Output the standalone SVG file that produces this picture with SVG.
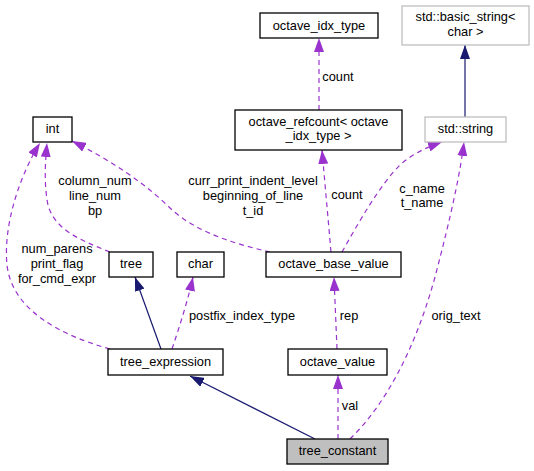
<svg xmlns="http://www.w3.org/2000/svg" width="534" height="471" viewBox="0 0 534 471">
<defs>
<style>
text{font-family:"Liberation Sans",Arial,sans-serif;font-size:12.8px;fill:#000;text-anchor:middle}
.n{fill:#fff;stroke:#000;stroke-width:1.3}
.g{fill:#fff;stroke:#bfbfbf;stroke-width:1.3}
.c{fill:#bfbfbf;stroke:#000;stroke-width:1.3}
.d{fill:none;stroke:#9a32cd;stroke-width:1.2;stroke-dasharray:5,4;marker-end:url(#ap)}
.s{fill:none;stroke:#191970;stroke-width:1.2;marker-end:url(#an)}
</style>
<marker id="ap" viewBox="0 0 14 10" refX="14" refY="5" markerWidth="14" markerHeight="10" markerUnits="userSpaceOnUse" orient="auto">
<path d="M0,0 L14,5 L0,10 z" fill="#9a32cd"/>
</marker>
<marker id="an" viewBox="0 0 14 10" refX="14" refY="5" markerWidth="14" markerHeight="10" markerUnits="userSpaceOnUse" orient="auto">
<path d="M0,0 L14,5 L0,10 z" fill="#191970"/>
</marker>
</defs>
<rect width="534" height="471" fill="#fff"/>
<g id="edges">
<path class="d" d="M110,349 C60,335 12,310 7,265 C3,225 20,175 40,143"/>
<path class="d" d="M110,252 C80,240 55,230 48,205 C44,185 45,165 47,143"/>
<path class="d" d="M270,252 C235,244 195,232 170,208 C145,183 110,160 72,141"/>
<path class="d" d="M331,252 L322,150"/>
<path class="d" d="M319,110 L319,38"/>
<path class="d" d="M342,252 C360,220 380,185 400,165 C413,153 428,147 442,142"/>
<path class="d" d="M350,439 C385,405 415,350 435,277 C450,220 460,175 464,142"/>
<path class="s" d="M465,117 L465,45"/>
<path class="s" d="M161,349 L135,277"/>
<path class="d" d="M172,349 C180,325 188,300 193,277"/>
<path class="d" d="M337,349 L334,277"/>
<path class="s" d="M315,439 L190,376"/>
<path class="d" d="M338,439 L338,375"/>
<text x="95" y="185">column_num</text>
<text x="95" y="200">line_num</text>
<text x="95" y="215">bp</text>
<text x="253" y="185">curr_print_indent_level</text>
<text x="253" y="200">beginning_of_line</text>
<text x="253" y="215">t_id</text>
<text x="57" y="253">num_parens</text>
<text x="57" y="268">print_flag</text>
<text x="57" y="283">for_cmd_expr</text>
<text x="338" y="81">count</text>
<text x="347" y="199">count</text>
<text x="422" y="193">c_name</text>
<text x="422" y="207">t_name</text>
<text x="242" y="320">postfix_index_type</text>
<text x="349" y="320">rep</text>
<text x="456" y="320">orig_text</text>
<text x="350" y="410">val</text>
</g>
<g id="int"><rect class="n" x="33" y="117" width="39" height="25"/><text x="52.5" y="133">int</text></g>
<g id="octave_idx_type"><rect class="n" x="260" y="13" width="118" height="25"/><text x="319" y="30">octave_idx_type</text></g>
<g id="basic_string"><rect class="g" x="402" y="6" width="127" height="39"/><text x="465.5" y="21">std::basic_string&lt;</text><text x="465.5" y="36">char &gt;</text></g>
<g id="octave_refcount"><rect class="n" x="235" y="110" width="167" height="40"/><text x="318.5" y="126">octave_refcount&lt; octave</text><text x="318.5" y="140">_idx_type &gt;</text></g>
<g id="std_string"><rect class="g" x="425" y="117" width="81" height="25"/><text x="465.5" y="133">std::string</text></g>
<g id="tree"><rect class="n" x="109" y="252" width="44" height="25"/><text x="131" y="268">tree</text></g>
<g id="char"><rect class="n" x="177" y="252" width="47" height="25"/><text x="200.5" y="268">char</text></g>
<g id="octave_base_value"><rect class="n" x="266" y="252" width="135" height="25"/><text x="333.5" y="268">octave_base_value</text></g>
<g id="tree_expression"><rect class="n" x="108" y="349" width="115" height="26"/><text x="165.5" y="366">tree_expression</text></g>
<g id="octave_value"><rect class="n" x="288" y="349" width="99" height="26"/><text x="337.5" y="366">octave_value</text></g>
<g id="tree_constant"><rect class="c" x="287" y="439" width="101" height="25"/><text x="337.5" y="455">tree_constant</text></g>
</svg>
